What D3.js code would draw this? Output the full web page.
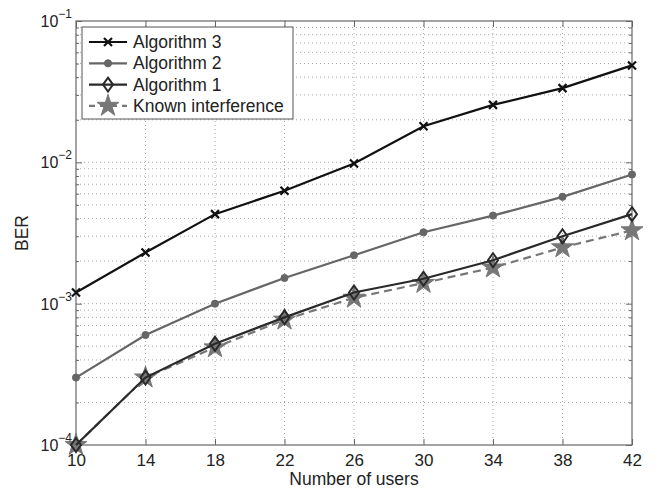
<!DOCTYPE html>
<html>
<head>
<meta charset="utf-8">
<script src="https://cdn.jsdelivr.net/npm/d3@7"></script>
<style>
body { margin: 0; background: #fff; }
text { font-family: "Liberation Sans", Arial, sans-serif; }
</style>
</head>
<body>
<script>
// data
var users = [10, 14, 18, 22, 26, 30, 34, 38, 42];
var alg3 = [1.2e-3, 2.3e-3, 4.3e-3, 6.3e-3, 9.8e-3, 1.8e-2, 2.55e-2, 3.35e-2, 4.85e-2];
var alg2 = [3.0e-4, 6.0e-4, 1.0e-3, 1.52e-3, 2.2e-3, 3.2e-3, 4.2e-3, 5.7e-3, 8.2e-3];
var alg1 = [1.0e-4, 3.0e-4, 5.2e-4, 8.0e-4, 1.2e-3, 1.5e-3, 2.03e-3, 3.0e-3, 4.3e-3];
var known = [1.0e-4, 3.0e-4, 4.9e-4, 7.7e-4, 1.1e-3, 1.4e-3, 1.8e-3, 2.5e-3, 3.3e-3];
var xTicks = [10, 14, 18, 22, 26, 30, 34, 38, 42];
var yDecades = [1e-4, 1e-3, 1e-2, 1e-1];
var yLabels = ["-4", "-3", "-2", "-1"];

var W = 656, H = 490;
var L = 76, R = 632, T = 21, B = 445;

var svg = d3.select("body").append("svg").attr("width", W).attr("height", H);

var x = d3.scaleLinear().domain([10, 42]).range([L, R]);
var y = d3.scaleLog().domain([1e-4, 1e-1]).range([B, T]);

// minor values for grid
var minors = [];
for (var d = 1e-4; d < 1e-1; d *= 10) {
    for (var k = 2; k <= 9; k++) minors.push(d * k);
}

var grid = svg.append("g").attr("stroke", "#aaa").attr("stroke-width", 1).attr("stroke-dasharray", "1,3");
xTicks.slice(1, -1).forEach(function(v) {
    grid.append("line").attr("x1", x(v)).attr("x2", x(v)).attr("y1", T).attr("y2", B);
});
minors.concat(yDecades.slice(1, -1)).forEach(function(v) {
    grid.append("line").attr("x1", L).attr("x2", R).attr("y1", y(v)).attr("y2", y(v));
});

// frame
svg.append("rect").attr("x", L).attr("y", T).attr("width", R - L).attr("height", B - T)
    .attr("fill", "none").attr("stroke", "#666").attr("stroke-width", 1.2);

// axes with inward ticks
var axB = d3.axisBottom(x).tickValues(xTicks).tickSizeInner(-6).tickSizeOuter(0).tickPadding(9);
var gB = svg.append("g").attr("transform", "translate(0," + B + ")").call(axB);
var gT = svg.append("g").attr("transform", "translate(0," + T + ")")
    .call(d3.axisTop(x).tickValues(xTicks).tickSizeInner(-6).tickSizeOuter(0).tickFormat(""));
var gL = svg.append("g").attr("transform", "translate(" + L + ",0)")
    .call(d3.axisLeft(y).tickValues(yDecades).tickSizeInner(-6).tickSizeOuter(0).tickFormat(""));
var gR = svg.append("g").attr("transform", "translate(" + R + ",0)")
    .call(d3.axisRight(y).tickValues(yDecades).tickSizeInner(-6).tickSizeOuter(0).tickFormat(""));
var gLm = svg.append("g").attr("transform", "translate(" + L + ",0)")
    .call(d3.axisLeft(y).tickValues(minors).tickSizeInner(-3).tickSizeOuter(0).tickFormat(""));
var gRm = svg.append("g").attr("transform", "translate(" + R + ",0)")
    .call(d3.axisRight(y).tickValues(minors).tickSizeInner(-3).tickSizeOuter(0).tickFormat(""));
[gB, gT, gL, gR, gLm, gRm].forEach(function(g) {
    g.select(".domain").remove();
    g.selectAll("line").attr("stroke", "#666");
});
gB.selectAll("text").attr("font-size", 17).attr("fill", "#222").attr("font-family", "Liberation Sans, Arial, sans-serif");

// y labels 10^n
yDecades.forEach(function(v, i) {
    var t = svg.append("text").attr("x", 72).attr("y", y(v) + 6).attr("text-anchor", "end")
        .attr("font-size", 16).attr("fill", "#222");
    t.append("tspan").text("10");
    t.append("tspan").attr("dy", -9).attr("font-size", 12).text("\u2212" + yLabels[i].slice(1));
});

svg.append("text").attr("x", 354).attr("y", 485).attr("text-anchor", "middle")
    .attr("font-size", 17.5).attr("fill", "#222").text("Number of users");
svg.append("text").attr("transform", "translate(28," + (T + B) / 2 + ") rotate(-90)")
    .attr("text-anchor", "middle").attr("font-size", 17.5).attr("fill", "#222").text("BER");

// series
var series = [
    { name: "Algorithm 3", vals: alg3, color: "#111", dash: null, marker: "x" },
    { name: "Algorithm 2", vals: alg2, color: "#666", dash: null, marker: "dot" },
    { name: "Algorithm 1", vals: alg1, color: "#2a2a2a", dash: null, marker: "diamond" },
    { name: "Known interference", vals: known, color: "#777", dash: "8,5", marker: "star" }
];

var line = d3.line().x(function(d, i) { return x(users[i]); }).y(function(d) { return y(d); });

function drawMarker(g, type, cx, cy, color) {
    if (type === "x") {
        g.append("path").attr("d", "M" + (cx - 4) + "," + (cy - 4) + "L" + (cx + 4) + "," + (cy + 4) +
            "M" + (cx - 4) + "," + (cy + 4) + "L" + (cx + 4) + "," + (cy - 4))
            .attr("stroke", color).attr("stroke-width", 2.2).attr("fill", "none");
    } else if (type === "dot") {
        g.append("path").attr("d", d3.symbol(d3.symbolCircle, 40)()).attr("transform", "translate(" + cx + "," + cy + ")")
            .attr("fill", color).attr("stroke", color);
    } else if (type === "diamond") {
        g.append("path").attr("d", "M" + cx + "," + (cy - 7) + "L" + (cx + 5) + "," + cy + "L" + cx + "," + (cy + 7) + "L" + (cx - 5) + "," + cy + "Z")
            .attr("fill", "none").attr("stroke", color).attr("stroke-width", 2);
    } else if (type === "star") {
        g.append("path").attr("d", d3.symbol(d3.symbolStar, 150)()).attr("transform", "translate(" + cx + "," + cy + ")")
            .attr("fill", color).attr("stroke", color).attr("stroke-width", 1);
    }
}

// draw known first so others sit over it
[series[3], series[1], series[0], series[2]].forEach(function(s) {
    var g = svg.append("g");
    g.append("path").datum(s.vals).attr("d", line).attr("fill", "none")
        .attr("stroke", s.color).attr("stroke-width", 2.2).attr("stroke-dasharray", s.dash);
    s.vals.forEach(function(v, i) { drawMarker(g, s.marker, x(users[i]), y(v), s.color); });
});

// legend
var lg = svg.append("g");
lg.append("rect").attr("x", 82).attr("y", 27).attr("width", 211).attr("height", 92)
    .attr("fill", "#fff").attr("stroke", "#555").attr("stroke-width", 1);
series.forEach(function(s, i) {
    var ly = 42 + i * 21.3;
    lg.append("line").attr("x1", 89).attr("x2", 127).attr("y1", ly).attr("y2", ly)
        .attr("stroke", s.color).attr("stroke-width", 2.2).attr("stroke-dasharray", s.dash ? "6,5" : null);
    drawMarker(lg, s.marker, 108, ly, s.color);
    lg.append("text").attr("x", 133).attr("y", ly + 6).attr("font-size", 17.5).attr("fill", "#222").text(s.name);
});
</script>
</body>
</html>
